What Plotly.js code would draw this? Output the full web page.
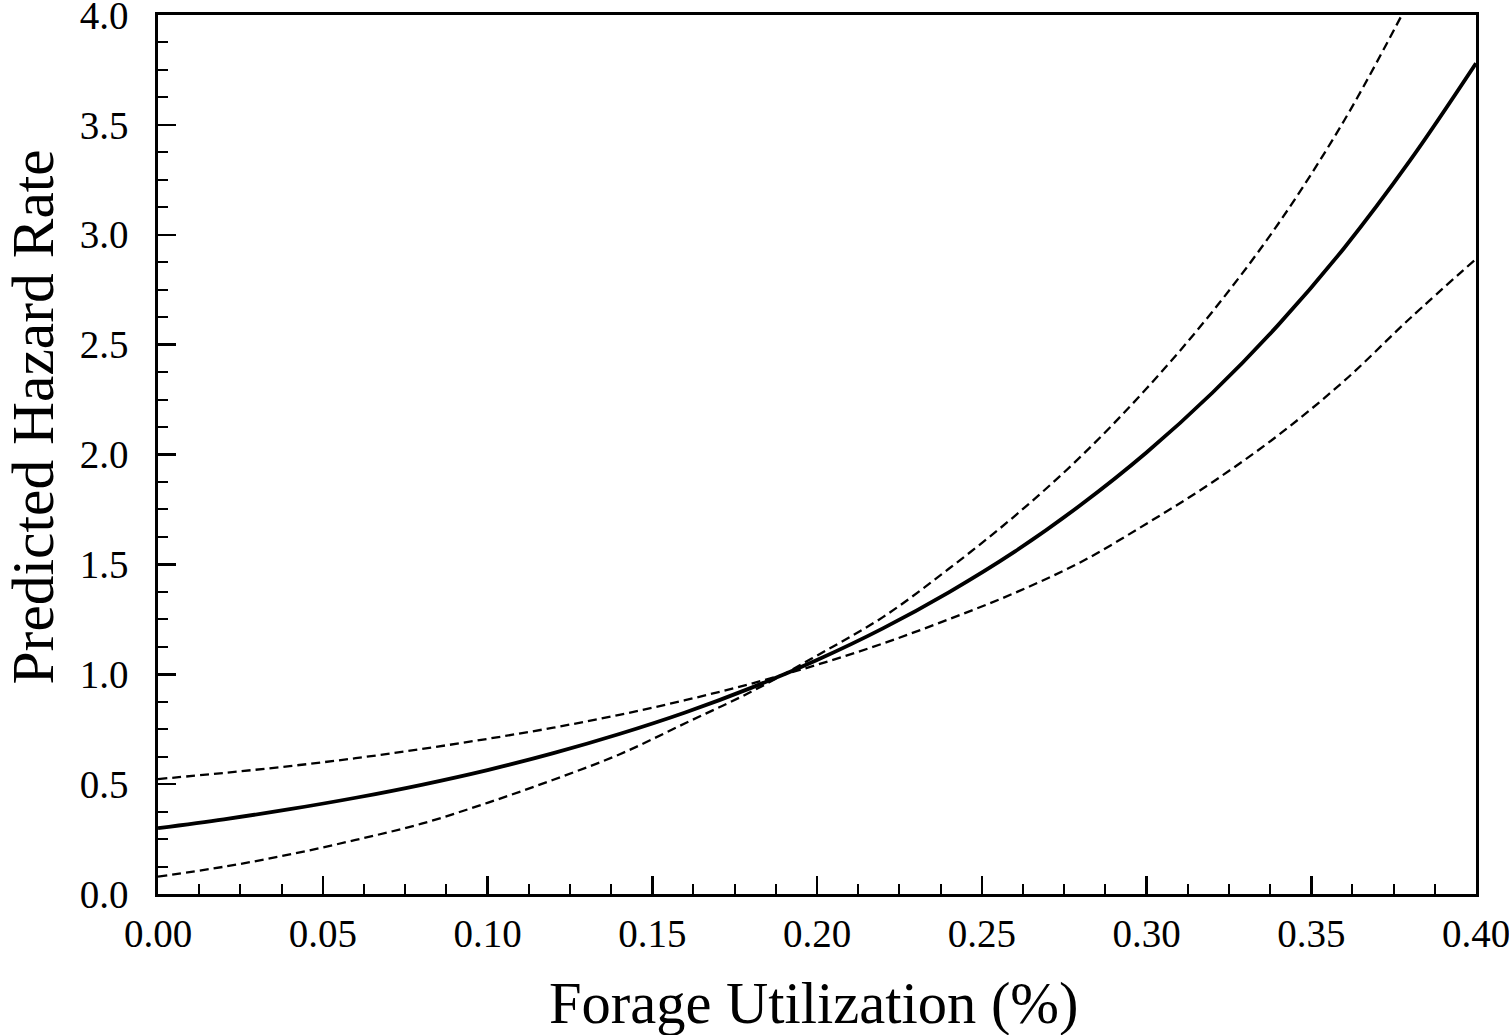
<!DOCTYPE html>
<html>
<head>
<meta charset="utf-8">
<script src="https://cdn.plot.ly/plotly-3.0.1.min.js"></script>
<style>
  html, body { margin: 0; padding: 0; background: #fff; }
  #chart { width: 1509px; height: 1035px; }
</style>
</head>
<body>
<div id="chart"></div>
<script>
// Forage utilization (x) values
var utilization = [0.00, 0.02, 0.04, 0.06, 0.08, 0.10, 0.12, 0.14, 0.16, 0.18, 0.20,
                   0.22, 0.24, 0.26, 0.28, 0.30, 0.32, 0.34, 0.36, 0.38, 0.40];
// Predicted hazard rate (solid line)
var hazardPredicted = [0.30, 0.34, 0.386, 0.438, 0.497, 0.564, 0.641, 0.728, 0.826, 0.938, 1.065,
                       1.209, 1.373, 1.558, 1.77, 2.009, 2.281, 2.59, 2.94, 3.338, 3.78];
// Flatter confidence bound (dashed, high at left)
var boundFlat = [0.523, 0.551, 0.582, 0.618, 0.66, 0.706, 0.757, 0.815, 0.882, 0.957, 1.043,
                 1.14, 1.25, 1.37, 1.51, 1.685, 1.874, 2.088, 2.335, 2.62, 2.89];
// Steeper confidence bound (dashed, low at left) – leaves the frame at 4.0
var utilizationSteep = [0.00, 0.02, 0.04, 0.06, 0.08, 0.10, 0.12, 0.14, 0.16, 0.18, 0.20,
                        0.22, 0.24, 0.26, 0.28, 0.30, 0.32, 0.34, 0.36, 0.3775];
var boundSteep = [0.079, 0.124, 0.18, 0.246, 0.32, 0.415, 0.52, 0.635, 0.777, 0.92, 1.085,
                  1.26, 1.48, 1.72, 1.99, 2.30, 2.65, 3.05, 3.52, 4.0];

var xTitle = "Forage Utilization (%)";
var yTitle = "Predicted Hazard Rate";

var serif = "Liberation Serif, Times New Roman, serif";

var traces = [
  { x: utilization, y: boundFlat, mode: "lines", line: {color: "#000", width: 2.3, dash: "9px,5px", shape: "spline"}, hoverinfo: "skip" },
  { x: utilizationSteep, y: boundSteep, mode: "lines", line: {color: "#000", width: 2.3, dash: "9px,5px", shape: "spline"}, hoverinfo: "skip" },
  { x: utilization, y: hazardPredicted, mode: "lines", line: {color: "#000", width: 3.8, shape: "spline"}, hoverinfo: "skip" }
];

var layout = {
  width: 1509, height: 1035,
  margin: {l: 158, r: 33, t: 15, b: 141, pad: 0},
  paper_bgcolor: "#fff", plot_bgcolor: "#fff",
  showlegend: false,
  font: {family: serif, color: "#000"},
  xaxis: {
    range: [0, 0.4], tickmode: "linear", tick0: 0, dtick: 0.05, tickformat: ".2f",
    ticks: "inside", ticklen: 18, tickwidth: 2.5, tickcolor: "#000",
    minor: {dtick: 0.0125, ticks: "inside", ticklen: 10, tickwidth: 2, tickcolor: "#000", showgrid: false},
    showline: true, linecolor: "#000", linewidth: 2.8, mirror: true,
    showgrid: false, zeroline: false,
    tickfont: {family: serif, size: 39, color: "#000"},
    ticklabelstandoff: 3,
    ticklabeloverflow: "allow"
  },
  yaxis: {
    range: [0, 4], tickmode: "linear", tick0: 0, dtick: 0.5, tickformat: ".1f",
    ticks: "inside", ticklen: 18, tickwidth: 2.5, tickcolor: "#000",
    minor: {dtick: 0.125, ticks: "inside", ticklen: 10, tickwidth: 2, tickcolor: "#000", showgrid: false},
    showline: true, linecolor: "#000", linewidth: 2.8, mirror: true,
    showgrid: false, zeroline: false,
    tickfont: {family: serif, size: 39, color: "#000"},
    ticklabelstandoff: 19,
    ticklabeloverflow: "allow"
  },
  annotations: [
    { text: xTitle, xref: "paper", yref: "paper", x: 0.498, y: -0.125, xanchor: "center", yanchor: "middle",
      showarrow: false, font: {family: serif, size: 58.5, color: "#000"} },
    { text: yTitle, xref: "paper", yref: "paper", x: -0.095, y: 0.543, xanchor: "center", yanchor: "middle",
      textangle: -90, showarrow: false, font: {family: serif, size: 59.5, color: "#000"} }
  ]
};

Plotly.newPlot("chart", traces, layout, {displayModeBar: false, staticPlot: true});
</script>
</body>
</html>
